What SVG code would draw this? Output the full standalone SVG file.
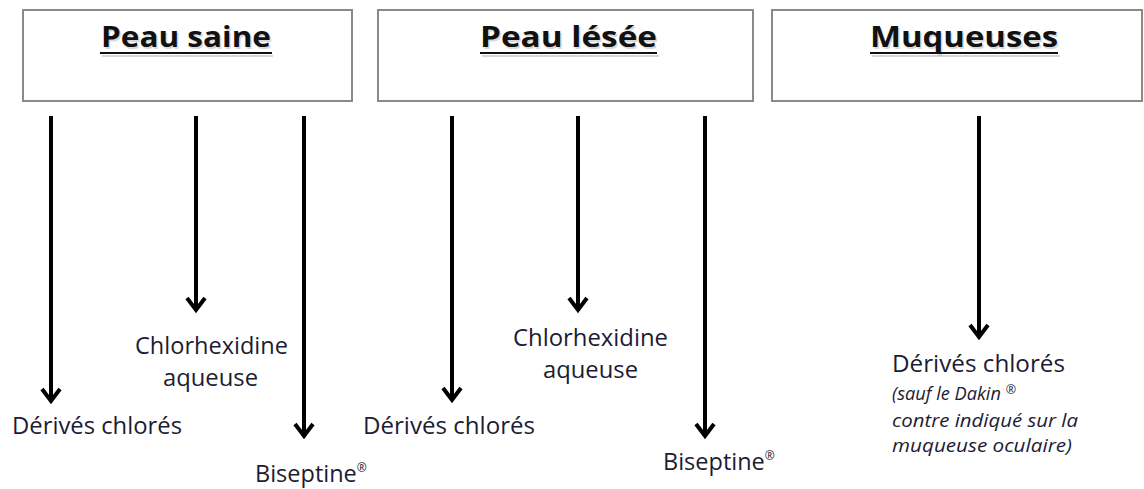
<svg xmlns="http://www.w3.org/2000/svg" width="1144" height="489" viewBox="0 0 1144 489">
<defs>
<style>
.box{fill:#fff;stroke:#8a8a8a;stroke-width:2}
.title{font-family:"Open Sans","Liberation Sans",sans-serif;font-weight:700;font-size:29px;fill:#111}
.shadow{font-family:"Open Sans","Liberation Sans",sans-serif;font-weight:700;font-size:29px;fill:#bbb;opacity:0.55}
.ul{stroke:#111;stroke-width:2.2}
.uls{stroke:#bbb;stroke-width:2;opacity:0.6}
.lbl{font-family:"Open Sans","Liberation Sans",sans-serif;font-size:23.5px;fill:#1c1c34}
.sup{font-size:12px}
.note{font-family:"Open Sans","Liberation Sans",sans-serif;font-style:italic;font-weight:400;font-size:17.5px;fill:#1c1c34}
.arrow{stroke:#000;stroke-width:4;fill:none}
</style>
<marker id="head" markerUnits="userSpaceOnUse" markerWidth="30" markerHeight="30" refX="0" refY="0" orient="auto" overflow="visible">
<path d="M-12,-9 L0,0 L-12,9" fill="none" stroke="#000" stroke-width="4" stroke-linejoin="miter"/>
</marker>
</defs>

<g id="node-peau-saine">
<rect class="box" x="23" y="10" width="329" height="91"/>
<text class="shadow" x="187.5" y="49" text-anchor="middle" textLength="170" lengthAdjust="spacingAndGlyphs">Peau saine</text>
<text class="title" x="186" y="47" text-anchor="middle" textLength="170" lengthAdjust="spacingAndGlyphs">Peau saine</text>
<line class="uls" x1="102" y1="56" x2="273" y2="56"/>
<line class="ul" x1="100" y1="53" x2="272" y2="53"/>
</g>

<g id="node-peau-lesee">
<rect class="box" x="378" y="10" width="375" height="91"/>
<text class="shadow" x="570" y="49" text-anchor="middle" textLength="177" lengthAdjust="spacingAndGlyphs">Peau lésée</text>
<text class="title" x="568.5" y="47" text-anchor="middle" textLength="177" lengthAdjust="spacingAndGlyphs">Peau lésée</text>
<line class="uls" x1="482" y1="56" x2="659" y2="56"/>
<line class="ul" x1="480" y1="53" x2="657" y2="53"/>
</g>

<g id="node-muqueuses">
<rect class="box" x="772" y="10" width="370" height="91"/>
<text class="shadow" x="965.5" y="49" text-anchor="middle" textLength="188" lengthAdjust="spacingAndGlyphs">Muqueuses</text>
<text class="title" x="964" y="47" text-anchor="middle" textLength="188" lengthAdjust="spacingAndGlyphs">Muqueuses</text>
<line class="uls" x1="872" y1="56" x2="1060" y2="56"/>
<line class="ul" x1="870" y1="53" x2="1058" y2="53"/>
</g>

<g id="connectors">
<line class="arrow" x1="51" y1="116" x2="51" y2="401" marker-end="url(#head)"/>
<line class="arrow" x1="196" y1="116" x2="196" y2="310" marker-end="url(#head)"/>
<line class="arrow" x1="304" y1="116" x2="304" y2="436" marker-end="url(#head)"/>
<line class="arrow" x1="452" y1="116" x2="452" y2="400" marker-end="url(#head)"/>
<line class="arrow" x1="578" y1="116" x2="578" y2="310" marker-end="url(#head)"/>
<line class="arrow" x1="705" y1="116" x2="705" y2="436" marker-end="url(#head)"/>
<line class="arrow" x1="979" y1="116" x2="979" y2="337" marker-end="url(#head)"/>
</g>

<g id="node-derives-1">
<text class="lbl" x="12" y="434" textLength="170" lengthAdjust="spacingAndGlyphs">Dérivés chlorés</text>
</g>
<g id="node-chlorhexidine-1">
<text class="lbl" x="211.5" y="354" text-anchor="middle" textLength="153" lengthAdjust="spacingAndGlyphs">Chlorhexidine</text>
<text class="lbl" x="210.5" y="386" text-anchor="middle" textLength="95" lengthAdjust="spacingAndGlyphs">aqueuse</text>
</g>
<g id="node-biseptine-1">
<text class="lbl" x="255" y="482">Biseptine<tspan class="sup" dy="-10">®</tspan></text>
</g>

<g id="node-derives-2">
<text class="lbl" x="363" y="434" textLength="172" lengthAdjust="spacingAndGlyphs">Dérivés chlorés</text>
</g>
<g id="node-chlorhexidine-2">
<text class="lbl" x="590.5" y="346" text-anchor="middle" textLength="155" lengthAdjust="spacingAndGlyphs">Chlorhexidine</text>
<text class="lbl" x="590.5" y="378" text-anchor="middle" textLength="95" lengthAdjust="spacingAndGlyphs">aqueuse</text>
</g>
<g id="node-biseptine-2">
<text class="lbl" x="663" y="470">Biseptine<tspan class="sup" dy="-10">®</tspan></text>
</g>

<g id="node-derives-3">
<text class="lbl" x="892" y="372" textLength="173" lengthAdjust="spacingAndGlyphs">Dérivés chlorés</text>
<text class="note" x="892" y="400" textLength="124" lengthAdjust="spacingAndGlyphs">(sauf le Dakin <tspan class="sup" dy="-6">®</tspan></text>
<text class="note" x="892" y="427" textLength="186" lengthAdjust="spacingAndGlyphs">contre indiqué sur la</text>
<text class="note" x="892" y="452" textLength="180" lengthAdjust="spacingAndGlyphs">muqueuse oculaire)</text>
</g>
</svg>
